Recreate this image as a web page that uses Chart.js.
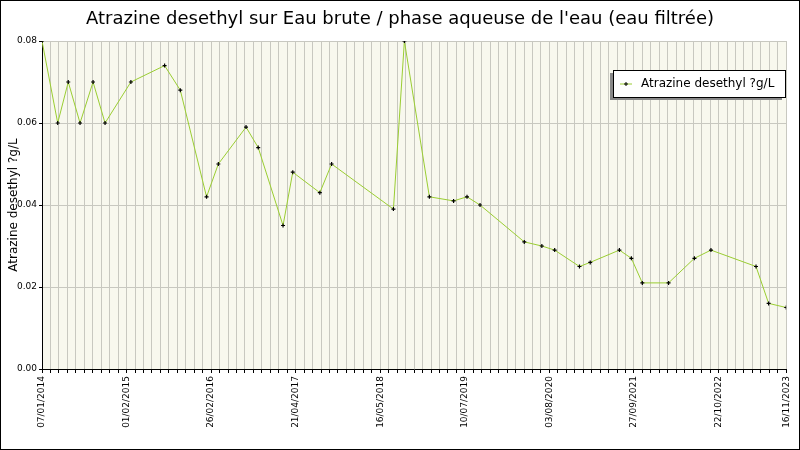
<!DOCTYPE html>
<html><head><meta charset="utf-8">
<script src="https://cdn.jsdelivr.net/npm/chart.js@4/dist/chart.umd.min.js"></script>
<style>html,body{margin:0;padding:0;background:#fff}canvas{display:block}</style>
</head><body>
<canvas id="c" width="800" height="450"></canvas>
<script>
const startDate = "2014-01-07";
const sampleDayOffsets = [0,76,127,184,247,305,430,593,669,796,853,987,1046,1166,1213,1344,1401,1700,1753,1874,1991,2056,2119,2333,2418,2480,2600,2652,2793,2851,2904,3031,3156,3236,3454,3515,3600];
const atrazineValues = [0.080,0.060,0.070,0.060,0.070,0.060,0.070,0.074,0.068,0.042,0.050,0.059,0.054,0.035,0.048,0.043,0.050,0.039,0.080,0.042,0.041,0.042,0.040,0.031,0.030,0.029,0.025,0.026,0.029,0.027,0.021,0.021,0.027,0.029,0.025,0.016,0.015];
const xTickLabels = ["07/01/2014","01/02/2015","26/02/2016","21/04/2017","16/05/2018","10/07/2019","03/08/2020","27/09/2021","22/10/2022","16/11/2023"];
const seriesName = "Atrazine desethyl ?g/L";
const titleText = "Atrazine desethyl sur Eau brute / phase aqueuse de l'eau (eau filtrée)";

const totalDays = 3600, gridCount = 88;
const labelAt = {};
[0,10,20,30,40,50,60,70,80,88].forEach((g,i)=>labelAt[g]=xTickLabels[i]);

const framePlugin = {
  id:'frame',
  beforeDraw(chart){
    const {ctx, chartArea:a} = chart;
    ctx.save();
    ctx.fillStyle='#f8f8ee';
    ctx.fillRect(a.left,a.top,a.right-a.left,a.bottom-a.top);
    ctx.restore();
  },
  afterDraw(chart){
    const {ctx} = chart;
    ctx.save();
    ctx.strokeStyle='#000'; ctx.lineWidth=1;
    ctx.strokeRect(0.5,0.5,799,449);
    ctx.fillStyle='#000'; ctx.font='18px "DejaVu Sans"'; ctx.textAlign='center'; ctx.textBaseline='middle';
    ctx.fillText(titleText,400,19);
    const x=613,y=70,w=172,h=27;
    ctx.fillStyle='#888'; ctx.fillRect(x-3,y+3,w,h);
    ctx.fillStyle='#fff'; ctx.fillRect(x,y,w,h);
    ctx.strokeStyle='#000'; ctx.strokeRect(x+0.5,y+0.5,w,h);
    ctx.strokeStyle='#9acd32'; ctx.beginPath(); ctx.moveTo(620,y+14); ctx.lineTo(632,y+14); ctx.stroke();
    ctx.strokeStyle='#000'; ctx.beginPath(); ctx.moveTo(624,y+14);ctx.lineTo(628,y+14);ctx.moveTo(626,y+12);ctx.lineTo(626,y+16);ctx.stroke();
    ctx.fillStyle='#000'; ctx.font='12px "DejaVu Sans"'; ctx.textAlign='left';
    ctx.fillText(seriesName,641,y+14);
    ctx.restore();
  }
};

new Chart(document.getElementById('c'),{
  type:'line',
  data:{datasets:[{
    label:seriesName,
    data:sampleDayOffsets.map((d,i)=>({x:d,y:atrazineValues[i]})),
    borderColor:'#9acd32', borderWidth:1, tension:0,
    pointStyle:'cross', pointRadius:2, pointBorderColor:'#000', pointBorderWidth:1.2, pointBackgroundColor:'#000'
  }]},
  options:{
    responsive:false, animation:false, devicePixelRatio:1,
    layout:{padding:{top:41,right:6,left:0,bottom:0}},
    plugins:{legend:{display:false},title:{display:false},tooltip:{enabled:false}},
    scales:{
      x:{type:'linear',min:0,max:totalDays,
        afterBuildTicks(s){s.ticks=[];for(let g=0;g<=gridCount;g++)s.ticks.push({value:g*totalDays/gridCount,g});},
        afterFit(s){s.height=81;},
        ticks:{autoSkip:false,maxRotation:90,minRotation:90,font:{family:'DejaVu Sans',size:9},color:'#000',
          callback(v,i){return labelAt[i]||'';}},
        grid:{color:'#c8c8c0',tickColor:'#000',tickLength:4,drawTicks:true},
        border:{color:'#000'}
      },
      y:{min:0,max:0.08,
        afterFit(s){s.width=42;},
        ticks:{stepSize:0.02,font:{family:'DejaVu Sans',size:9},color:'#000',callback:v=>v.toFixed(2),padding:2},
        grid:{color:'#c8c8c0',tickColor:'#000',tickLength:3},
        border:{color:'#000'},
        title:{display:true,text:seriesName,font:{family:'DejaVu Sans',size:12},color:'#000',padding:{top:7,bottom:0}}
      }
    }
  },
  plugins:[framePlugin]
});
</script>
</body></html>
